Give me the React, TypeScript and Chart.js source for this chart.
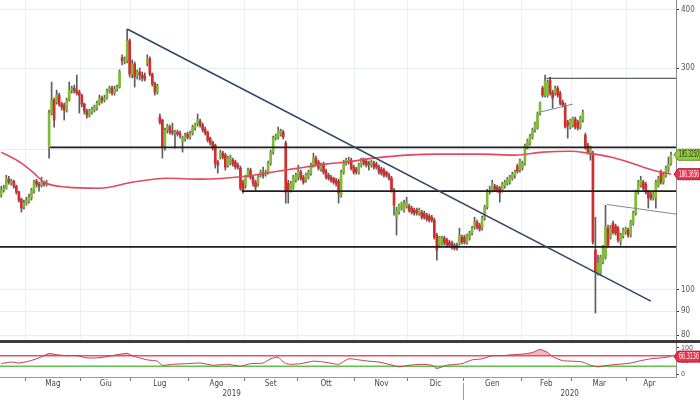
import React, { useEffect, useRef } from 'react';
import { Chart, registerables } from 'chart.js';

Chart.register(...registerables);

// ---------------- data ----------------
const monthNames = ['Apr', 'Mag', 'Giu', 'Lug', 'Ago', 'Set', 'Ott', 'Nov', 'Dic', 'Gen', 'Feb', 'Mar', 'Apr'];
const sessionsPerMonth = [10, 22, 20, 23, 22, 21, 23, 21, 22, 23, 20, 22, 18];
const yearLabels = ['2019', '2020'];
const yearFirstMonth = [0, 9];

const open = [
  159.9, 163.9, 165.5, 173.1, 170.5, 171.4, 167.2, 162.3, 156.8, 150.7,
  153.7, 155.2, 157.6, 163.1, 171.4, 168.8, 168.0, 169.7, 168.8, 202.9,
  240.1, 256.1, 253.5, 262.4, 251.0, 249.8, 243.7, 256.1, 269.0, 271.7,
  269.0, 266.4, 262.4, 251.0, 242.5, 237.7, 241.3, 243.7, 246.1, 252.3,
  258.6, 256.1, 258.6, 267.7, 271.7, 265.0, 270.4, 273.1, 315.6, 310.9,
  310.9, 343.5, 291.4, 306.2, 288.5, 294.3, 289.9, 288.5, 307.8, 314.0,
  291.4, 277.2, 266.4, 235.4, 231.9, 202.9, 220.7, 224.0, 219.6, 217.4,
  218.5, 217.4, 208.0, 211.1, 216.4, 213.2, 217.4, 222.9, 227.3, 230.8,
  226.2, 221.8, 218.5, 212.1, 208.0, 204.9, 188.4, 193.1, 196.9, 195.0,
  185.5, 187.4, 190.2, 188.4, 185.5, 182.8, 170.5, 168.0, 176.5, 181.0,
  174.8, 170.5, 169.7, 176.5, 178.3, 177.4, 179.2, 187.4, 197.9, 212.1,
  213.2, 216.4, 218.5, 206.9, 169.7, 163.9, 166.4, 172.2, 174.8, 179.2,
  174.8, 172.2, 174.8, 178.3, 185.5, 192.1, 188.4, 181.9, 186.5, 180.1,
  176.5, 174.8, 173.9, 172.2, 171.4, 159.9, 179.2, 187.4, 188.4, 190.2,
  183.7, 181.9, 179.2, 185.5, 190.2, 189.3, 187.4, 185.5, 187.4, 186.5,
  183.7, 181.9, 181.0, 179.2, 176.5, 173.9, 163.9, 143.4, 147.0, 150.0,
  148.5, 151.5, 151.5, 150.0, 148.5, 148.5, 146.3, 147.0, 146.3, 144.8,
  144.1, 143.4, 141.3, 131.2, 124.8, 126.1, 129.3, 128.0, 126.7, 126.1,
  124.8, 124.8, 126.1, 129.9, 129.9, 126.7, 129.3, 132.5, 136.5, 139.9,
  137.8, 135.8, 142.7, 150.7, 163.1, 163.9, 167.2, 166.4, 165.5, 163.9,
  167.2, 169.7, 170.5, 173.9, 176.5, 184.6, 181.0, 182.8, 187.4, 202.9,
  206.9, 213.2, 220.7, 224.0, 240.1, 271.7, 262.4, 262.4, 282.8, 266.4,
  265.0, 271.7, 265.0, 253.5, 249.8, 229.6, 224.0, 226.2, 233.1, 229.6,
  224.0, 231.9, 215.3, 204.9, 196.9, 196.9, 121.8, 109.2, 108.7, 114.8,
  117.6, 135.8, 129.9, 139.2, 137.1, 135.8, 127.4, 130.5, 133.1, 134.5,
  131.2, 139.2, 146.3, 162.3, 168.0, 170.5, 168.8, 162.3, 160.7, 157.6,
  157.6, 168.0, 179.2, 170.5, 176.5, 181.0, 187.4,
];

const high = [
  167.2, 168.0, 176.5, 175.6, 173.1, 172.2, 168.0, 163.1, 157.6, 156.0,
  158.3, 160.7, 165.5, 172.2, 173.1, 170.5, 174.8, 171.4, 172.2, 243.7,
  280.0, 258.6, 269.0, 265.0, 253.5, 252.3, 258.6, 280.0, 274.4, 275.8,
  289.9, 269.0, 263.7, 252.3, 244.9, 244.9, 247.4, 249.8, 254.8, 262.4,
  261.1, 262.4, 270.4, 274.4, 274.4, 274.4, 275.8, 297.3, 320.4, 317.2,
  363.5, 346.7, 312.4, 309.3, 297.3, 300.2, 294.3, 292.9, 320.4, 317.2,
  292.9, 280.0, 277.2, 238.9, 233.1, 222.9, 227.3, 226.2, 228.5, 220.7,
  220.7, 219.6, 214.2, 217.4, 218.5, 219.6, 226.2, 228.5, 238.9, 233.1,
  228.5, 224.0, 219.6, 213.2, 209.0, 205.9, 190.2, 199.8, 198.8, 196.9,
  194.0, 195.0, 192.1, 190.2, 187.4, 184.6, 172.2, 176.5, 182.8, 182.8,
  176.5, 172.2, 176.5, 181.0, 183.7, 181.0, 189.3, 199.8, 214.2, 216.4,
  224.0, 221.8, 220.7, 209.0, 172.2, 171.4, 176.5, 178.3, 185.5, 181.0,
  176.5, 178.3, 181.0, 187.4, 196.9, 194.0, 190.2, 187.4, 188.4, 181.9,
  178.3, 176.5, 174.8, 173.9, 173.1, 181.0, 190.2, 192.1, 193.1, 192.1,
  185.5, 183.7, 187.4, 192.1, 192.1, 191.2, 189.3, 190.2, 189.3, 188.4,
  185.5, 183.7, 182.8, 180.1, 178.3, 175.6, 165.5, 150.7, 153.0, 154.5,
  156.0, 158.3, 153.0, 151.5, 150.0, 150.0, 150.0, 148.5, 147.8, 146.3,
  145.6, 144.8, 142.7, 132.5, 130.5, 130.5, 130.5, 129.3, 128.0, 127.4,
  126.1, 126.1, 135.8, 131.2, 131.2, 131.8, 133.8, 137.1, 143.4, 141.3,
  139.2, 144.1, 152.2, 164.7, 167.2, 172.2, 168.8, 168.0, 167.2, 170.5,
  172.2, 174.8, 176.5, 179.2, 181.0, 186.5, 191.2, 189.3, 205.9, 211.1,
  216.4, 222.9, 229.6, 241.3, 253.5, 274.4, 289.9, 282.8, 287.1, 269.0,
  274.4, 274.4, 267.7, 256.1, 252.3, 231.9, 233.1, 235.4, 235.4, 231.9,
  236.5, 243.7, 217.4, 206.9, 203.9, 198.8, 143.4, 118.8, 118.8, 124.8,
  152.2, 137.8, 137.8, 140.6, 138.5, 137.1, 132.5, 135.8, 136.5, 135.8,
  141.3, 147.8, 163.9, 172.2, 175.6, 172.2, 170.5, 163.9, 162.3, 163.1,
  172.2, 175.6, 181.0, 178.3, 184.6, 193.1, 197.9,
];

const low = [
  158.3, 162.3, 164.7, 168.8, 168.0, 165.5, 160.7, 154.5, 147.0, 149.2,
  152.2, 153.7, 156.0, 161.5, 166.4, 163.1, 166.4, 167.2, 167.2, 192.1,
  237.7, 224.0, 251.0, 248.6, 243.7, 231.9, 241.3, 254.8, 265.0, 265.0,
  262.4, 240.1, 247.4, 238.9, 234.2, 235.4, 238.9, 241.3, 243.7, 249.8,
  252.3, 253.5, 257.3, 265.0, 262.4, 262.4, 267.7, 271.7, 304.7, 306.2,
  307.8, 287.1, 285.6, 273.1, 284.2, 282.8, 281.4, 281.4, 303.2, 288.5,
  274.4, 262.4, 263.7, 227.3, 192.1, 199.8, 217.4, 216.4, 215.3, 201.9,
  214.2, 212.1, 197.9, 209.0, 211.1, 211.1, 215.3, 220.7, 225.1, 224.0,
  218.5, 215.3, 208.0, 204.9, 199.8, 182.8, 178.3, 191.2, 191.2, 181.0,
  183.7, 185.5, 184.6, 181.9, 181.9, 163.9, 161.5, 165.5, 174.8, 173.1,
  167.2, 163.9, 167.2, 174.8, 173.9, 175.6, 177.4, 185.5, 195.9, 210.0,
  211.1, 214.2, 211.1, 153.7, 153.7, 162.3, 164.7, 170.5, 172.2, 172.2,
  168.8, 170.5, 173.1, 176.5, 183.7, 185.5, 181.0, 180.1, 177.4, 173.1,
  172.2, 170.5, 168.8, 167.2, 153.7, 158.3, 177.4, 185.5, 186.5, 181.0,
  177.4, 177.4, 177.4, 183.7, 185.5, 183.7, 181.0, 183.7, 181.9, 181.9,
  177.4, 176.5, 174.8, 174.8, 172.2, 162.3, 144.8, 131.2, 145.6, 148.5,
  147.0, 150.0, 147.0, 145.6, 144.8, 144.8, 144.8, 142.0, 142.0, 140.6,
  139.9, 139.9, 128.6, 115.9, 123.6, 124.8, 124.8, 123.6, 123.6, 122.4,
  121.8, 121.8, 124.8, 125.5, 125.5, 125.5, 128.0, 131.2, 135.1, 135.1,
  133.8, 134.5, 141.3, 149.2, 160.7, 162.3, 163.1, 162.3, 154.5, 162.3,
  165.5, 168.0, 168.8, 172.2, 173.9, 178.3, 179.2, 181.0, 185.5, 200.8,
  204.9, 211.1, 218.5, 221.8, 237.7, 259.8, 259.8, 259.8, 262.4, 246.1,
  262.4, 259.8, 249.8, 247.4, 222.9, 212.1, 221.8, 224.0, 221.8, 220.7,
  221.8, 229.6, 200.8, 195.9, 190.2, 125.5, 89.2, 107.6, 107.6, 113.7,
  116.5, 123.6, 128.6, 131.8, 131.2, 126.7, 124.8, 129.3, 131.8, 129.9,
  129.9, 137.8, 144.8, 160.7, 166.4, 163.9, 160.7, 150.0, 156.0, 156.0,
  150.0, 166.4, 168.8, 168.8, 174.8, 179.2, 185.5,
];

const close = [
  163.9, 165.5, 173.9, 170.5, 171.4, 167.2, 162.3, 156.0, 150.0, 153.7,
  156.0, 158.3, 163.9, 170.5, 168.8, 167.2, 169.7, 168.8, 169.7, 240.1,
  256.1, 231.9, 262.4, 251.0, 247.4, 243.7, 256.1, 269.0, 271.7, 267.7,
  265.0, 262.4, 251.0, 242.5, 237.7, 242.5, 244.9, 247.4, 252.3, 258.6,
  256.1, 258.6, 267.7, 271.7, 265.0, 270.4, 273.1, 294.3, 310.9, 312.4,
  343.5, 291.4, 306.2, 287.1, 294.3, 289.9, 285.6, 284.2, 314.0, 291.4,
  277.2, 266.4, 274.4, 229.6, 202.9, 220.7, 225.1, 218.5, 217.4, 218.5,
  216.4, 215.3, 212.1, 215.3, 213.2, 217.4, 224.0, 227.3, 231.9, 226.2,
  220.7, 217.4, 210.0, 206.9, 201.9, 187.4, 185.5, 197.9, 193.1, 183.7,
  192.1, 193.1, 186.5, 183.7, 183.7, 165.5, 163.9, 174.8, 181.0, 174.8,
  169.7, 166.4, 174.8, 179.2, 176.5, 179.2, 187.4, 197.9, 212.1, 214.2,
  220.7, 219.6, 213.2, 162.3, 163.9, 169.7, 174.8, 176.5, 180.1, 173.9,
  170.5, 176.5, 179.2, 185.5, 192.1, 187.4, 182.8, 185.5, 179.2, 174.8,
  173.9, 172.2, 170.5, 169.7, 161.5, 179.2, 188.4, 190.2, 190.2, 182.8,
  179.2, 179.2, 185.5, 190.2, 187.4, 185.5, 186.5, 188.4, 183.7, 183.7,
  179.2, 178.3, 176.5, 176.5, 173.9, 163.9, 152.2, 148.5, 152.2, 153.0,
  153.7, 154.5, 148.5, 147.0, 146.3, 146.3, 148.5, 143.4, 143.4, 142.0,
  141.3, 141.3, 129.9, 121.8, 129.9, 129.3, 126.1, 124.8, 124.8, 123.6,
  123.0, 123.0, 131.2, 126.7, 126.7, 130.5, 132.5, 135.8, 139.9, 136.5,
  135.1, 142.7, 150.7, 163.1, 163.9, 169.7, 164.7, 163.9, 161.5, 168.8,
  170.5, 173.1, 174.8, 177.4, 179.2, 180.1, 189.3, 187.4, 203.9, 209.0,
  214.2, 220.7, 228.5, 238.9, 252.3, 262.4, 281.4, 280.0, 265.0, 258.6,
  271.7, 262.4, 252.3, 249.8, 224.0, 226.2, 231.9, 234.2, 224.0, 222.9,
  234.2, 241.3, 202.9, 197.9, 201.9, 126.7, 109.2, 114.2, 117.6, 123.6,
  136.5, 124.8, 135.8, 133.1, 132.5, 128.0, 131.2, 134.5, 135.1, 131.2,
  139.9, 146.3, 162.3, 170.5, 172.2, 165.5, 162.3, 157.6, 157.6, 161.5,
  170.5, 173.9, 170.5, 176.5, 182.8, 186.5, 195.33,
];

const maIndex = [0, 8, 13, 17, 26, 39, 52, 66, 79, 97, 105, 118, 129, 137, 148, 161, 174, 190, 204, 215, 226, 233, 242, 249, 255, 262, 266];
const maValue = [197.9, 187.4, 178.3, 170.5, 166.4, 165.5, 170.5, 173.9, 173.1, 175.6, 178.3, 182.8, 186.5, 188.4, 192.1, 195.0, 195.9, 195.9, 195.0, 197.9, 198.8, 196.9, 193.1, 188.4, 183.7, 179.2, 177.4];

const rsiIndex = [0, 4, 7, 11, 15, 19, 22, 26, 30, 34, 38, 42, 46, 49, 50, 52, 54, 58, 62, 64, 68, 74, 79, 84, 90, 95, 99, 104, 107, 110, 112, 113, 115, 119, 124, 128, 132, 134, 138, 142, 146, 150, 154, 158, 162, 167, 171, 173, 177, 181, 183, 187, 191, 195, 199, 203, 207, 211, 214, 217, 219, 223, 227, 231, 234, 237, 241, 245, 250, 254, 258, 262, 266];
const rsiValue = [39.7, 45.8, 42, 49, 61.5, 78, 73.6, 70, 70, 61.5, 61.5, 66, 73.6, 78, 79, 70, 64, 54, 49, 33.6, 37, 39.7, 42, 33.6, 37, 30, 39.7, 42, 58, 64, 45.8, 40, 37, 39.7, 49, 45.8, 39.7, 37, 58, 54, 49, 45.8, 37, 27.6, 33.6, 37, 33.6, 21.5, 33.6, 37, 39.7, 54, 58, 70, 70, 73.6, 76, 82, 94, 82, 66, 51, 49, 45.8, 33.6, 27.6, 33.6, 37, 42, 51, 58, 61.5, 66.31];

const priceTicks = [80, 90, 100, 200, 300, 400];
const rsiTicks = [0, 50, 100];
const rsiUpper = 70;
const rsiLower = 30;

const levelPrice = [202.6, 163.1, 123.8, 285.2];
const levelFrom = [19.4, 95.5, -0.5, 216.5];
const trendIndex = [50, 258];
const trendPrice = [364, 94.6];
const wedgeAIndex = [214, 227];
const wedgeAPrice = [241.3, 251.0];
const wedgeBIndex = [240.6, 268];
const wedgeBPrice = [152.7, 145.6];

const tagLast = '195.3250';
const tagMa = '186.3656';
const tagRsi = '66.3136';

// ---------------- derived ----------------
const N = close.length;
const X_MIN = -0.5;
const X_MAX = N + 1;
const Y_MIN = 78.05;
const Y_MAX = 420.3;

const monthStart: number[] = [];
{
  let acc = 0;
  for (const n of sessionsPerMonth) { monthStart.push(acc); acc += n; }
}
const boundaries = monthStart.slice(1).map((s) => s - 0.5);
const monthMid = monthStart.map((s, m) => s + sessionsPerMonth[m] / 2 - 0.5);
const yearStart = yearFirstMonth.map((m) => monthStart[m] - 0.5);
const yearMid = yearStart.map((s, k) => (s + (k + 1 < yearStart.length ? yearStart[k + 1] : X_MAX)) / 2);

const monthLabelAt = new Map<number, string>();
monthMid.forEach((v, m) => { if (m > 0) monthLabelAt.set(v, monthNames[m]); });
const boundarySet = new Set<number>(boundaries);
const yearLabelAt = new Map<number, string>();
yearMid.forEach((v, k) => yearLabelAt.set(v, yearLabels[k]));

const FONT = "'Liberation Sans Narrow', 'DejaVu Sans Condensed', 'Arial Narrow', sans-serif";
const GREEN = '#80bb34';
const RED = '#d42b2b';
const WICK = '#5e5e5e';
const MA_COLOR = '#e24a5c';

function seg(xs: number[], ys: number[], color: string, width: number, order: number): any {
  return {
    type: 'line',
    data: xs.map((x, k) => ({ x, y: ys[k] })),
    borderColor: color,
    borderWidth: width,
    pointRadius: 0,
    pointHoverRadius: 0,
    fill: false,
    tension: 0,
    order,
  };
}

function drawTag(ctx: CanvasRenderingContext2D, x: number, y: number, text: string, bg: string, edge: string, fg: string) {
  const h = 11;
  const left = x + 2;
  const right = 700;
  ctx.save();
  ctx.beginPath();
  ctx.moveTo(x - 2, y);
  ctx.lineTo(left, y - h / 2);
  ctx.lineTo(right, y - h / 2);
  ctx.lineTo(right, y + h / 2);
  ctx.lineTo(left, y + h / 2);
  ctx.closePath();
  ctx.fillStyle = bg;
  ctx.fill();
  ctx.strokeStyle = edge;
  ctx.lineWidth = 1;
  ctx.stroke();
  ctx.fillStyle = fg;
  ctx.font = `8px ${FONT}`;
  ctx.textBaseline = 'middle';
  ctx.textAlign = 'left';
  ctx.fillText(text, left + 1, y + 0.5, right - left - 2);
  ctx.restore();
}

export default function App() {
  const mainRef = useRef<HTMLCanvasElement | null>(null);
  const rsiRef = useRef<HTMLCanvasElement | null>(null);

  useEffect(() => {
    document.body.style.margin = '0';
    const up = (i: number) => close[i] >= open[i];

    const mainTags = {
      id: 'mainTags',
      afterDraw(chart: any) {
        const { ctx, chartArea, scales } = chart;
        const y = scales.y;
        drawTag(ctx, chartArea.right, y.getPixelForValue(close[N - 1]), tagLast, '#96cc45', '#5f8f22', '#1c2a08');
        let yMa = y.getPixelForValue(maValue[maValue.length - 1]);
        const yLast = y.getPixelForValue(close[N - 1]);
        if (Math.abs(yMa - yLast) < 12) yMa = yLast + 12;
        drawTag(ctx, chartArea.right, yMa, tagMa, '#e5354f', '#b01c33', '#ffffff');
      },
    };

    const main = new Chart(mainRef.current as HTMLCanvasElement, {
      type: 'bar',
      data: {
        datasets: [
          {
            type: 'bar',
            data: low.map((l, i) => ({ x: i, y: [l, high[i]] })),
            backgroundColor: WICK,
            barThickness: 1,
            grouped: false,
            borderWidth: 0,
            order: 6,
          } as any,
          {
            type: 'bar',
            data: open.map((o, i) => ({ x: i, y: [o, close[i]] })),
            backgroundColor: (c: any) => (up(c.dataIndex) ? GREEN : RED),
            barThickness: 2,
            grouped: false,
            borderWidth: 0,
            minBarLength: 1,
            order: 5,
          } as any,
          {
            type: 'line',
            data: maIndex.map((x, k) => ({ x, y: maValue[k] })),
            borderColor: MA_COLOR,
            borderWidth: 1.6,
            pointRadius: 0,
            tension: 0.4,
            cubicInterpolationMode: 'monotone',
            fill: false,
            order: 4,
          } as any,
          ...levelPrice.map((p, k) => seg([levelFrom[k], X_MAX], [p, p], k === 3 ? '#3a3a3a' : '#1e1e1e', k === 3 ? 1 : 1.6, 2)),
          seg(trendIndex, trendPrice, '#2f4766', 1.6, 1),
          seg(wedgeAIndex, wedgeAPrice, '#7c8896', 1, 1),
          seg(wedgeBIndex, wedgeBPrice, '#7c8896', 1, 1),
        ],
      },
      options: {
        responsive: false,
        animation: false,
        devicePixelRatio: 1,
        layout: { padding: 0 },
        plugins: { legend: { display: false }, tooltip: { enabled: false } },
        events: [],
        scales: {
          x: {
            type: 'linear',
            min: X_MIN,
            max: X_MAX,
            offset: false,
            grid: { color: '#edf1f5', lineWidth: 1, drawTicks: false, offset: false },
            border: { display: false },
            ticks: { display: false },
            afterBuildTicks: (s: any) => { s.ticks = boundaries.map((v) => ({ value: v })); },
            afterFit: (s: any) => { s.height = 0; s.paddingLeft = 0; s.paddingRight = 0; },
          } as any,
          y: {
            type: 'logarithmic',
            position: 'right',
            min: Y_MIN,
            max: Y_MAX,
            grid: {
              color: '#e8edf2',
              lineWidth: 1,
              drawTicks: true,
              tickLength: 3,
              tickColor: (c: any) => (c.tick && c.tick.value === 200 ? 'rgba(0,0,0,0)' : '#333'),
            },
            border: { display: true, color: '#8a8a8a' },
            ticks: {
              autoSkip: false,
              padding: 2,
              color: '#555',
              font: { size: 8, family: FONT },
              callback: (v: any) => (Number(v) === 200 ? '' : String(v)),
            },
            afterBuildTicks: (s: any) => { s.ticks = priceTicks.map((v) => ({ value: v })); },
            afterFit: (s: any) => { s.width = 24; s.paddingTop = 0; s.paddingBottom = 0; },
          } as any,
        },
      },
      plugins: [mainTags],
    } as any);

    const rsiPts = rsiIndex.map((x, k) => ({ x, y: rsiValue[k] }));
    const rsiDecor = {
      id: 'rsiDecor',
      beforeDraw(chart: any) {
        const { ctx } = chart;
        ctx.save();
        ctx.fillStyle = '#3c3c3c';
        ctx.fillRect(0, 0, chart.width, 3);
        ctx.restore();
      },
      afterDraw(chart: any) {
        const { ctx, chartArea, scales } = chart;
        const xs = scales.x.getPixelForValue(yearStart[1]);
        ctx.save();
        ctx.strokeStyle = '#9a9a9a';
        ctx.lineWidth = 1;
        ctx.beginPath();
        ctx.moveTo(Math.round(xs) + 0.5, chartArea.bottom + 6);
        ctx.lineTo(Math.round(xs) + 0.5, chart.height);
        ctx.stroke();
        ctx.restore();
        drawTag(ctx, chartArea.right, scales.y.getPixelForValue(rsiValue[rsiValue.length - 1]), tagRsi, '#e5354f', '#b01c33', '#ffffff');
      },
    };

    const rsi = new Chart(rsiRef.current as HTMLCanvasElement, {
      type: 'line',
      data: {
        datasets: [
          {
            data: rsiPts,
            borderColor: '#c93a52',
            borderWidth: 1,
            pointRadius: 0,
            tension: 0.2,
            fill: { target: { value: rsiUpper }, above: 'rgba(226,60,86,0.38)', below: 'rgba(0,0,0,0)' },
            order: 1,
          },
          {
            data: rsiPts,
            borderColor: 'rgba(0,0,0,0)',
            borderWidth: 0,
            pointRadius: 0,
            tension: 0.2,
            fill: { target: { value: rsiLower }, above: 'rgba(0,0,0,0)', below: 'rgba(96,190,72,0.4)' },
            order: 2,
          },
          seg([X_MIN, X_MAX], [rsiUpper, rsiUpper], '#e3566b', 1.5, 3),
          seg([X_MIN, X_MAX], [rsiLower, rsiLower], '#62c24f', 1.5, 3),
        ],
      },
      options: {
        responsive: false,
        animation: false,
        devicePixelRatio: 1,
        layout: { padding: { top: 3, left: 0, right: 0, bottom: 0 } },
        plugins: { legend: { display: false }, tooltip: { enabled: false } },
        events: [],
        scales: {
          x: {
            type: 'linear',
            position: 'bottom',
            weight: 0,
            min: X_MIN,
            max: X_MAX,
            offset: false,
            grid: {
              drawOnChartArea: false,
              drawTicks: true,
              tickLength: 4,
              tickColor: (c: any) => (c.tick && boundarySet.has(c.tick.value) ? '#7a7a7a' : 'rgba(0,0,0,0)'),
            },
            border: { display: true, color: '#9a9a9a' },
            ticks: {
              autoSkip: false,
              maxRotation: 0,
              padding: -2,
              color: '#444',
              font: { size: 8, family: FONT },
              callback: (v: any) => monthLabelAt.get(Number(v)) ?? '',
            },
            afterBuildTicks: (s: any) => {
              s.ticks = [...boundaries, ...monthMid.slice(1)].sort((a, b) => a - b).map((v) => ({ value: v }));
            },
            afterFit: (s: any) => { s.height = 12; s.paddingLeft = 0; s.paddingRight = 0; },
          } as any,
          xy: {
            type: 'linear',
            position: 'bottom',
            weight: 1,
            min: X_MIN,
            max: X_MAX,
            offset: false,
            grid: { display: false, drawTicks: false, tickLength: 0 },
            border: { display: false },
            ticks: {
              autoSkip: false,
              maxRotation: 0,
              padding: 0,
              color: '#444',
              font: { size: 8, family: FONT },
              callback: (v: any) => yearLabelAt.get(Number(v)) ?? '',
            },
            afterBuildTicks: (s: any) => { s.ticks = yearMid.map((v) => ({ value: v })); },
            afterFit: (s: any) => { s.height = 11; s.paddingLeft = 0; s.paddingRight = 0; },
          } as any,
          y: {
            type: 'linear',
            position: 'right',
            min: -11,
            max: 118,
            grid: { drawOnChartArea: false, drawTicks: true, tickLength: 3, tickColor: '#333' },
            border: { display: true, color: '#8a8a8a' },
            ticks: {
              autoSkip: false,
              padding: 2,
              color: '#555',
              font: { size: 7, family: FONT },
              callback: (v: any) => String(v),
            },
            afterBuildTicks: (s: any) => { s.ticks = rsiTicks.map((v) => ({ value: v })); },
            afterFit: (s: any) => { s.width = 24; s.paddingTop = 0; s.paddingBottom = 0; },
          } as any,
        },
      },
      plugins: [rsiDecor],
    } as any);

    return () => {
      main.destroy();
      rsi.destroy();
    };
  }, []);

  return (
    <div style={{ position: 'relative', width: 700, height: 400, background: '#ffffff', overflow: 'hidden' }}>
      <canvas ref={mainRef} width={700} height={340} style={{ position: 'absolute', left: 0, top: 0, width: 700, height: 340 }} />
      <canvas ref={rsiRef} width={700} height={60} style={{ position: 'absolute', left: 0, top: 340, width: 700, height: 60 }} />
    </div>
  );
}
